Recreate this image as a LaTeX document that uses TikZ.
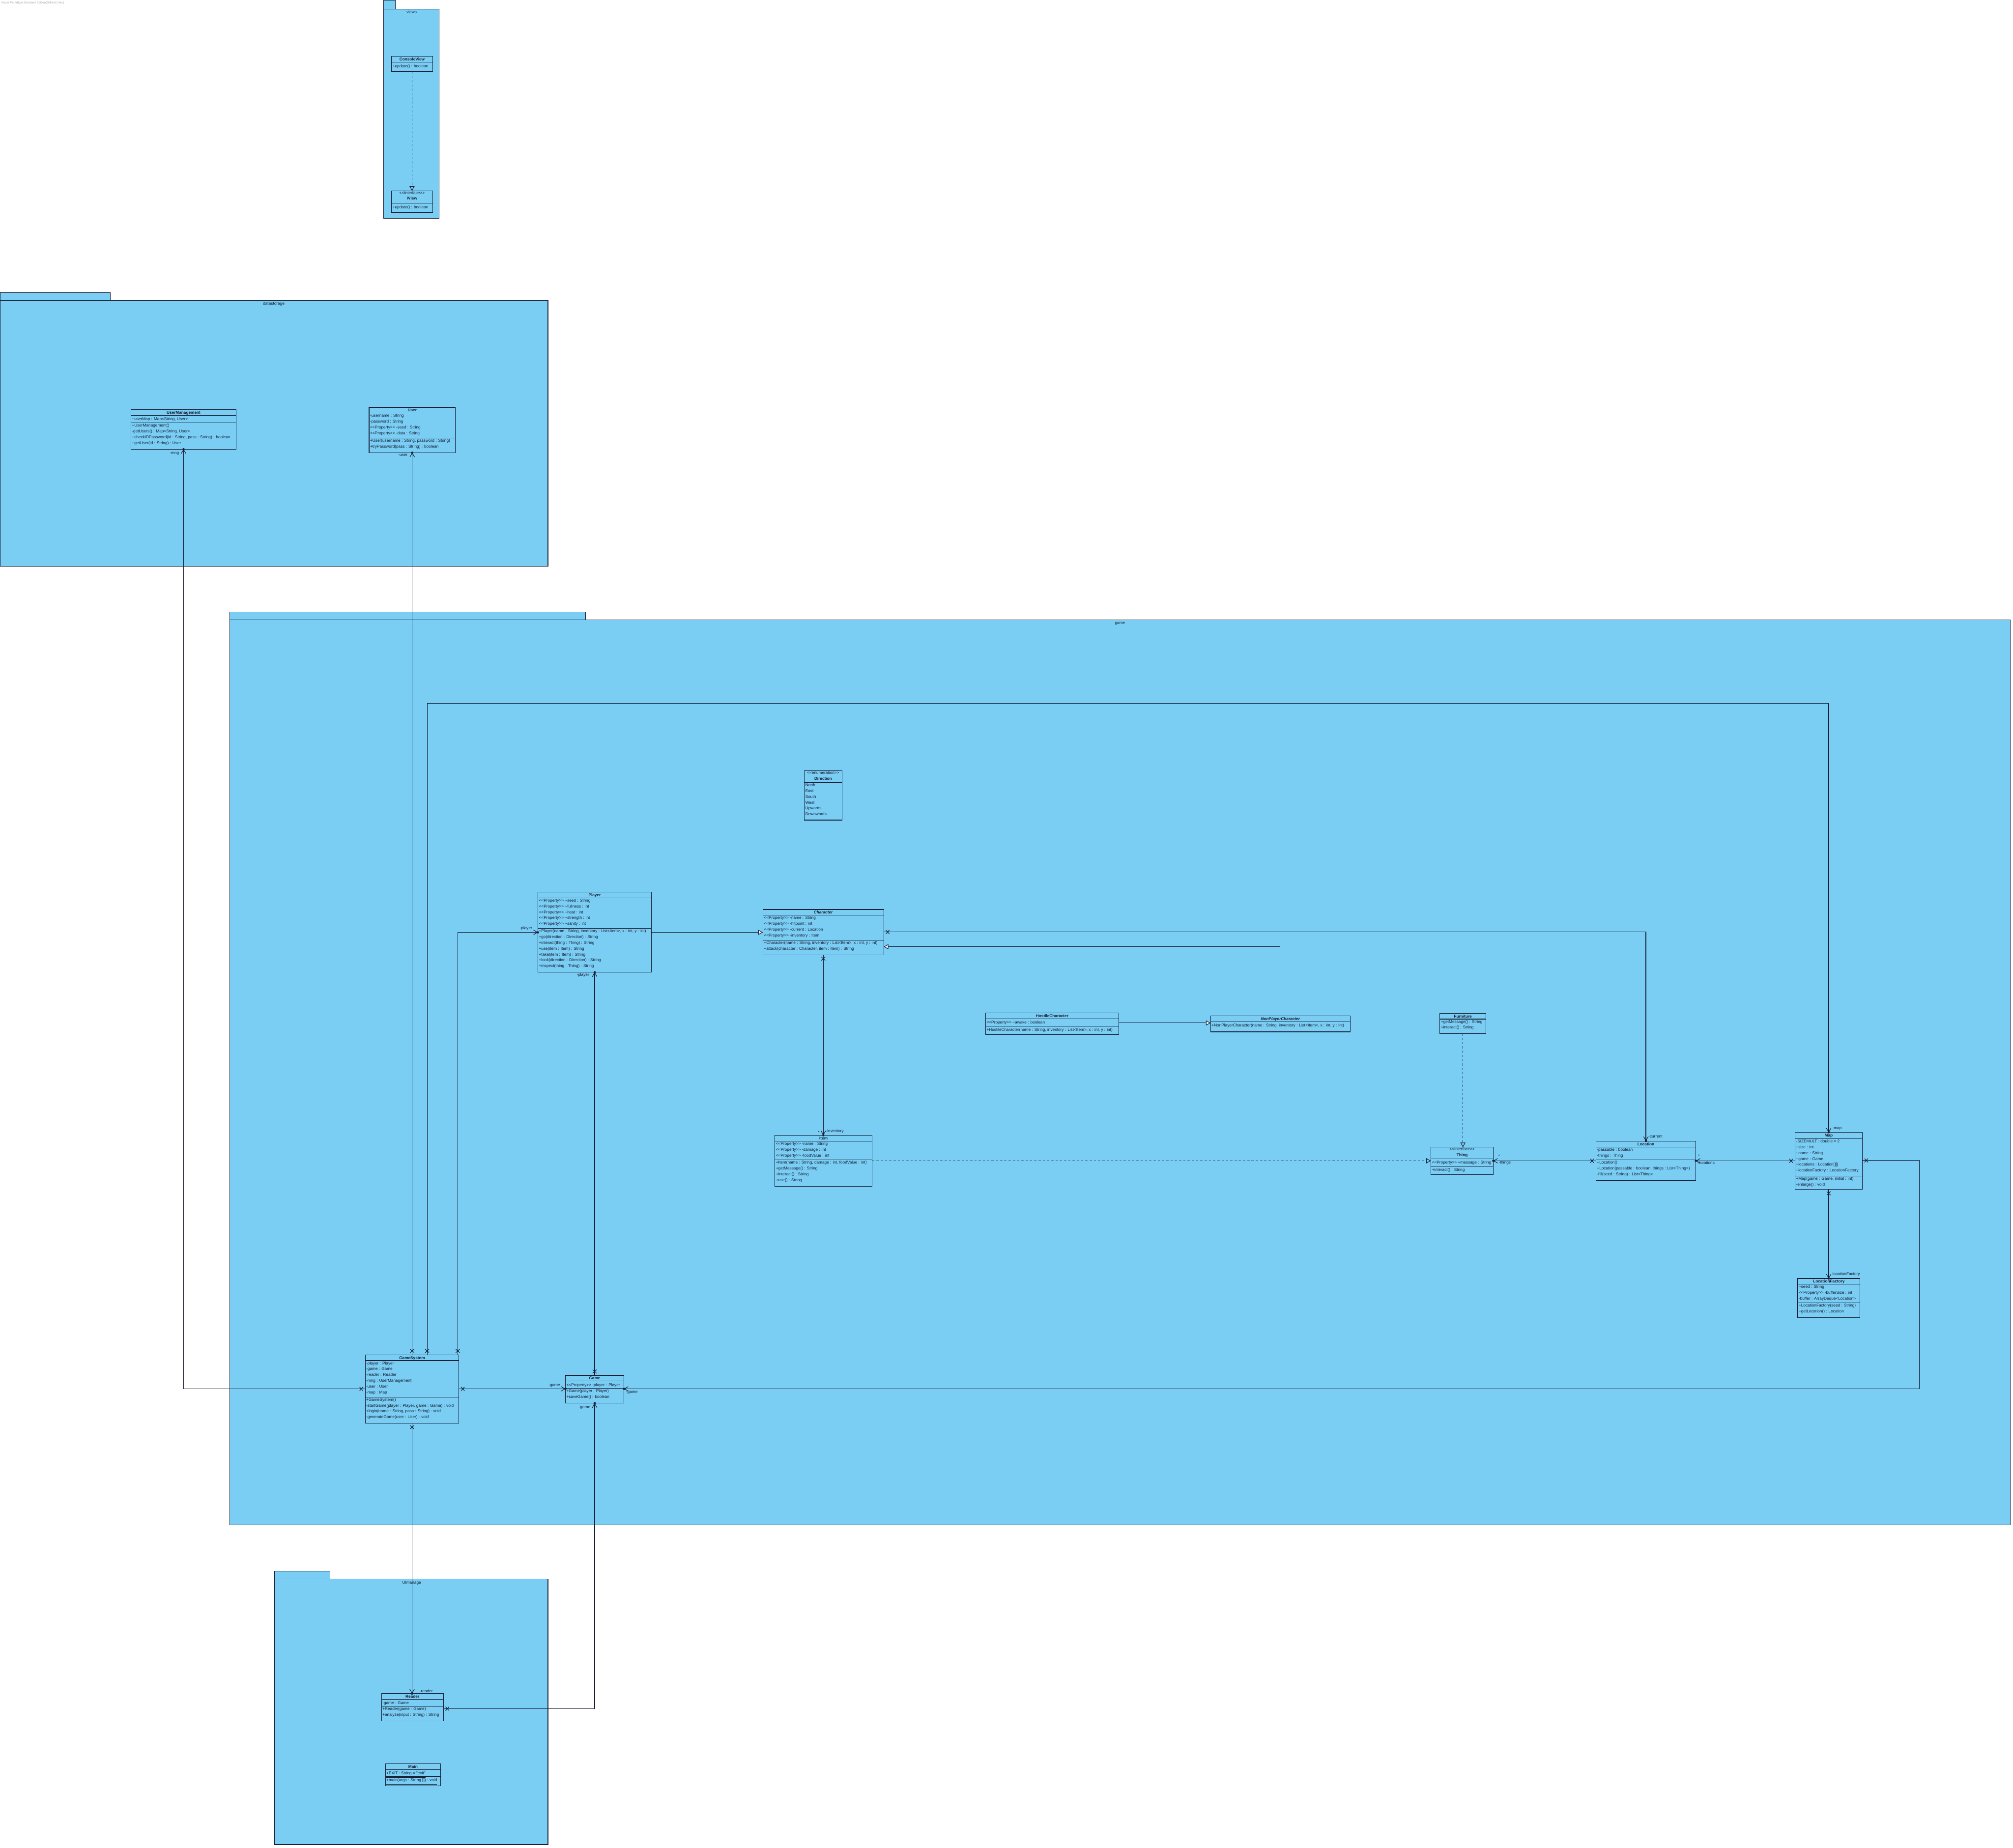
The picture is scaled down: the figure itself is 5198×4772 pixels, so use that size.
\documentclass[tikz,border=0pt]{standalone}
\usepackage{fontspec}
\setmainfont{Liberation Sans}
\usetikzlibrary{arrows.meta,decorations.markings}
\definecolor{pkgblue}{RGB}{122,206,244}
\definecolor{lc}{RGB}{24,30,54}
\newcommand\st[1]{<\kern0pt<#1>\kern0pt>}
\newcommand\tild{\textasciitilde}
\newcommand\cfont{\fontsize{2.98pt}{4.268pt}\selectfont}
\tikzset{
  cls/.style={draw=lc, fill=pkgblue, line width=0.014cm, inner sep=0pt, outer sep=0pt, rectangle},
  clsline/.style={draw=lc, line width=0.014cm},
  ctitle/.style={font=\cfont\bfseries, text=lc, inner sep=0pt, align=center, execute at begin node=\strut},
  ctext/.style={font=\cfont, text=lc, inner sep=0pt, align=left, execute at begin node=\strut},
  lbl/.style={font=\cfont, text=lc, inner sep=0pt},
  pkg/.style={draw=lc, fill=pkgblue, line width=0.014cm},
  conn/.style={draw=lc, line width=0.014cm},
  own/.style={-{Straight Barb[length=0.1cm,width=0.12cm]},
    postaction={decorate, decoration={markings, mark=at position 0.9999 with {\fill[lc] (0,0) circle (0.03cm);}}}},
  xs/.style={postaction={decorate, decoration={markings, mark=at position 0.1cm with {\draw[-,solid,lc,line width=0.014cm] (-0.045cm,-0.05cm) -- (0.045cm,0.05cm) (-0.045cm,0.05cm) -- (0.045cm,-0.05cm);}}}},
  gen/.style={-{Triangle[length=0.12cm,width=0.13cm,fill=white]}},
  real/.style={dash pattern=on 0.06cm off 0.05cm, -{Triangle[open,length=0.12cm,width=0.13cm]}}
}
% name, "x,y", width, h title, h attrs, h methods, title, attrs, methods
\newcommand\umlcls[9]{%
  \node[cls, minimum width={#3*0.01cm}, minimum height={(#4+#5+#6)*0.01cm}, anchor=north west] (#1) at (#2) {};
  \draw[clsline] ([yshift={-#4*0.01cm}]#1.north west) -- ([yshift={-#4*0.01cm}]#1.north east);
  \draw[clsline] ([yshift={-(#4+#5)*0.01cm}]#1.north west) -- ([yshift={-(#4+#5)*0.01cm}]#1.north east);
  \node[ctitle, anchor=north] (#1-t) at (#1.north) {#7};
  \node[ctext, anchor=north west] (#1-a) at ([xshift=0.02cm,yshift={-(#4+2)*0.01cm}]#1.north west) {#8};
  \node[ctext, anchor=north west] (#1-m) at ([xshift=0.02cm,yshift={-(#4+#5+2)*0.01cm}]#1.north west) {#9};
}
\begin{document}
\begin{tikzpicture}[x=0.01cm, y=-0.01cm]
\fill[white] (0,0) rectangle (5198,4772);
\useasboundingbox (0,0) rectangle (5198,4772);
\node[anchor=north west, font=\fontsize{2.2pt}{2.6pt}\selectfont, text=black!35, inner sep=0pt] (vp) at (2,3) {Visual Paradigm Standard Edition(Bilkent Univ.)};

% packages
\draw[pkg] (991,1) rectangle (1021,23);
\draw[pkg] (991,23) rectangle (1134,564);
\node[lbl] (views-l) at (1063,31) {views};
\draw[pkg] (0,756) rectangle (285,776);
\draw[pkg] (0,776) rectangle (1415,1462);
\node[lbl] (datastorage-l) at (707,785) {datastorage};
\draw[pkg] (593,1581) rectangle (1512,1601);
\draw[pkg] (593,1601) rectangle (5191,3938);
\node[lbl] (game-l) at (2892,1611) {game};
\draw[pkg] (709,4058) rectangle (852,4078);
\draw[pkg] (709,4078) rectangle (1415,4764);
\node[lbl] (uimanage-l) at (1063,4088) {UImanage};

% classes
\umlcls{consoleview}{1011,145}{106}{16}{0}{24}{ConsoleView}{}{+update() : boolean}
\umlcls{iview}{1011,493}{106}{32}{0}{24}{{\mdseries\st{Interface}}\\IView}{}{+update() : boolean}
\umlcls{usermanagement}{338,1058}{272}{15}{19}{68}{UserManagement}{\tild userMap : Map<String, User>}{+UserManagement()\\-getUsers() : Map<String, User>\\+checkIDPassword(id : String, pass : String) : boolean\\+getUser(id : String) : User}
\umlcls{user}{953,1052}{223}{15}{64}{38}{User}{-username : String\\-password : String\\\st{Property} -seed : String\\\st{Property} -data : String}{+User(username : String, password : String)\\+tryPassword(pass : String) : boolean}
\umlcls{direction}{2077,1991}{97}{30}{97}{0}{{\mdseries\st{enumeration}}\\Direction}{North\\East\\South\\West\\Upwards\\Downwards}{}
\umlcls{player}{1389,2304}{293}{15}{79}{113}{Player}{\st{Property} \tild seed : String\\\st{Property} \tild fullness : int\\\st{Property} \tild heat : int\\\st{Property} \tild strength : int\\\st{Property} \tild sanity : int}{+Player(name : String, inventory : List<Item>, x : int, y : int)\\+go(direction : Direction) : String\\+interact(thing : Thing) : String\\+use(item : Item) : String\\+take(item : Item) : String\\+look(direction : Direction) : String\\+inspect(thing : Thing) : String}
\umlcls{character}{1970,2349}{312}{15}{64}{38}{\textit{Character}}{\st{Property} -name : String\\\st{Property} -hitpoint : int\\\st{Property} -current : Location\\\st{Property} -inventory : Item}{+Character(name : String, inventory : List<Item>, x : int, y : int)\\+attack(character : Character, item : Item) : String}
\umlcls{hostile}{2545,2616}{344}{15}{19}{22}{HostileCharacter}{\st{Property} \tild awake : boolean}{+HostileCharacter(name : String, inventory : List<Item>, x : int, y : int)}
\umlcls{npc}{3126,2624}{361}{15}{0}{26}{\textit{NonPlayerCharacter}}{}{+NonPlayerCharacter(name : String, inventory : List<Item>, x : int, y : int)}
\umlcls{furniture}{3718,2617}{119}{15}{0}{37}{Furniture}{}{+getMessage() : String\\+interact() : String}
\umlcls{thing}{3695,2963}{161}{30}{19}{22}{{\mdseries\st{Interface}}\\Thing}{\st{Property} +message : String}{+interact() : String}
\umlcls{item}{2001,2932}{251}{15}{49}{68}{Item}{\st{Property} -name : String\\\st{Property} -damage : int\\\st{Property} -foodValue : int}{+Item(name : String, damage : int, foodValue : int)\\+getMessage() : String\\+interact() : String\\+use() : String}
\umlcls{location}{4121,2947}{258}{15}{34}{53}{Location}{-passable : boolean\\-things : Thing}{+Location()\\+Location(passable : boolean, things : List<Thing>)\\-fill(seed : String) : List<Thing>}
\umlcls{map}{4635,2925}{174}{16}{96}{35}{Map}{-SIZEMULT : double = 2\\\tild size : int\\\tild name : String\\\tild game : Game\\\tild locations : Location[][]\\\tild locationFactory : LocationFactory}{+Map(game : Game, initial : int)\\-enlarge() : void}
\umlcls{locationfactory}{4642,3302}{161}{15}{48}{38}{LocationFactory}{\tild seed : String\\\st{Property} -bufferSize : int\\-buffer : ArrayDeque<Location>}{+LocationFactory(seed : String)\\+getLocation() : Location}
\umlcls{gamesystem}{943,3499}{242}{15}{94}{68}{GameSystem}{-player : Player\\-game : Game\\-reader : Reader\\-mng : UserManagement\\-user : User\\-map : Map}{+GameSystem()\\-startGame(player : Player, game : Game) : void\\+login(name : String, pass : String) : void\\-generateGame(user : User) : void}
\umlcls{game}{1460,3552}{151}{15}{19}{38}{Game}{\st{Property} -player : Player}{+Game(player : Player)\\+saveGame() : boolean}
\umlcls{reader}{985,4374}{160}{15}{18}{38}{Reader}{-game : Game}{+Reader(game : Game)\\+analyze(input : String) : String}
\umlcls{main}{995,4555}{143}{15}{18}{24}{Main}{\underline{+EXIT : String = "exit"}}{\underline{+main(args : String []) : void}}

% connectors
\draw[conn, real] (consoleview.south) -- (iview.north);
\draw[conn, xs, own] (gamesystem.west |- 0,3587) -| (usermanagement.south);
\draw[conn, xs, own] (gamesystem.north -| user.south) -- (user.south);
\draw[conn, xs, own] (gamesystem.north -| 1103,0) -- (1103,1817) -| (map.north);
\draw[conn, xs, own] (gamesystem.north -| 1182,0) |- (player.west |- 0,2408);
\draw[conn, xs, own] (gamesystem.east |- 0,3587) -- (game.west |- 0,3587);
\draw[conn, xs, own] (gamesystem.south) -- (gamesystem.south |- reader.north);
\draw[conn, xs, own] (reader.east |- 0,4413) -| (game.south);
\draw[conn, xs, own] (game.north) -- (game.north |- player.south);
\draw[conn, xs, own] (map.east |- 0,2997) -- (4956,2997) |- (game.east |- 0,3587);
\draw[conn, gen] (player.east |- 0,2408) -- (character.west |- 0,2408);
\draw[conn, xs, own] (character.south) -- (character.south |- item.north);
\draw[conn, xs, own] (character.east |- 0,2407) -| (location.north);
\draw[conn, gen] (npc.north -| 3305,0) |- (character.east |- 0,2445);
\draw[conn, gen] (hostile.east |- 0,2642) -- (npc.west |- 0,2642);
\draw[conn, real] (furniture.south) -- (furniture.south |- thing.north);
\draw[conn, real] (item.east |- 0,2998) -- (thing.west |- 0,2998);
\draw[conn, xs, own] (location.west |- 0,2998) -- (thing.east |- 0,2998);
\draw[conn, xs, own] (map.west |- 0,2998) -- (location.east |- 0,2998);
\draw[conn, xs, own] (map.south) -- (map.south |- locationfactory.north);

% connector labels
\node[lbl, anchor=east] (l-mng) at (463,1172) {-mng};
\node[lbl, anchor=east] (l-user) at (1053,1175) {-user};
\node[lbl, anchor=west] (l-map) at (4731,2915) {-map};
\node[lbl, anchor=east] (l-player1) at (1375,2398) {-player};
\node[lbl, anchor=east] (l-player2) at (1522,2518) {-player};
\node[lbl, anchor=east] (l-game1) at (1447,3579) {-game};
\node[lbl, anchor=east] (l-game2) at (1525,3636) {-game};
\node[lbl, anchor=west] (l-game3) at (1616,3596) {-game};
\node[lbl, anchor=west] (l-reader) at (1083,4368) {-reader};
\node[lbl, anchor=east] (l-invm) at (2117,2925) {*};
\node[lbl, anchor=west] (l-inv) at (2132,2922) {-inventory};
\node[lbl, anchor=west] (l-current) at (4256,2935) {-current};
\node[lbl] (l-locm) at (4387,2986) {*};
\node[lbl, anchor=west] (l-loc) at (4382,3003) {-locations};
\node[lbl] (l-thingsm) at (3871,2986) {*};
\node[lbl, anchor=west] (l-things) at (3869,3003) {-things};
\node[lbl, anchor=west] (l-lf) at (4731,3291) {locationFactory};
\end{tikzpicture}
\end{document}
